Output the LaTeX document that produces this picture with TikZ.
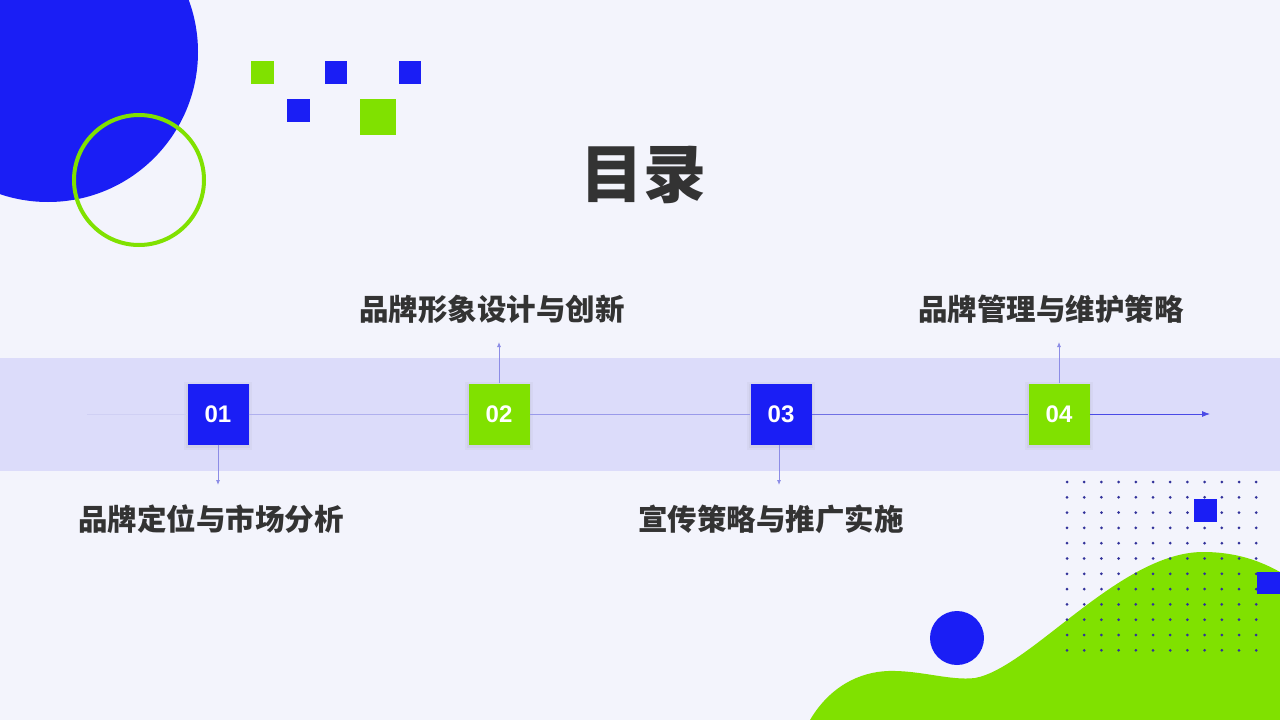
\documentclass[tikz,border=0pt]{standalone}
\usepackage{fontspec}
\setmainfont{Liberation Sans}
\newfontfamily\cjk{Noto Sans CJK SC}
\usetikzlibrary{arrows.meta,shadows}
\definecolor{bgc}{HTML}{F3F4FC}
\definecolor{bandc}{HTML}{DCDCFA}
\definecolor{blu}{HTML}{1A1EF5}
\definecolor{grn}{HTML}{80E100}
\definecolor{dotc}{HTML}{32329A}
\definecolor{txt}{HTML}{333333}
\definecolor{lnA}{HTML}{D0D0F4}
\definecolor{lnB}{HTML}{B0B0EE}
\definecolor{lnC}{HTML}{9A9AEA}
\definecolor{lnD}{HTML}{7070E4}
\definecolor{lnE}{HTML}{4A4AE6}
\definecolor{vln}{HTML}{8C8CE6}
\tikzset{
  numbox/.style={minimum size=61pt, inner sep=0pt, text=white,
    font=\bfseries\fontsize{24}{28}\selectfont,
    drop shadow={opacity=0.06, shadow xshift=0pt, shadow yshift=-2pt, shadow scale=1.12},
    drop shadow={opacity=0.08, shadow xshift=0pt, shadow yshift=-2pt, shadow scale=1.06}},
  lbl/.style={text=txt, inner sep=0pt, font=\cjk\bfseries\fontsize{29.5}{34}\selectfont},
  vconn/.style={draw=vln, line width=0.8pt, -{Latex[length=5pt,width=4pt]}}
}
\begin{document}
\begin{tikzpicture}[x=1pt,y=-1pt]
\useasboundingbox (0,0) rectangle (1280,720);
\clip (0,0) rectangle (1280,720);
\fill[bgc] (0,0) rectangle (1280,720);
% top-left decoration
\fill[blu] (48,52) circle (150);
\draw[grn, line width=4pt] (139,180) circle (65);
\fill[grn] (251,61) rectangle (274,84);
\fill[blu] (325,61) rectangle (347,84);
\fill[blu] (399,61) rectangle (421,84);
\fill[blu] (287,99) rectangle (310,122);
\fill[grn] (360,99) rectangle (396,135);
% title
\node[text=txt, inner sep=0pt, font=\cjk\bfseries\fontsize{63}{70}\selectfont] (title) at (643,175) {目录};
% band
\fill[bandc] (0,358) rectangle (1280,471);
% bottom-right decoration
\fill[grn] (810,720) .. controls (830,686) and (860,672) .. (888,671)
  .. controls (920,670) and (950,681) .. (975,678)
  .. controls (1030,668) and (1120,552) .. (1203,552)
  .. controls (1238,552) and (1262,562) .. (1280,572)
  -- (1280,720) -- cycle;
\foreach \i in {0,...,11}{
  \foreach \j in {0,...,11}{
    \fill[dotc] ({1067+17.2*\i},{482+15.3*\j}) circle (1.5);
  }
}
\fill[blu] (1194,499) rectangle (1217,522);
\fill[blu] (1257,572) rectangle (1285,594);
\fill[blu] (957,638) circle (27);
% timeline
\coordinate (ls) at (87,414);
\coordinate (le) at (1210,414);
\node[numbox, fill=blu] (b1) at (218,414) {01};
\node[numbox, fill=grn] (b2) at (499,414) {02};
\node[numbox, fill=blu] (b3) at (781,414) {03};
\node[numbox, fill=grn] (b4) at (1059,414) {04};
\draw[lnA, line width=0.8pt] (ls) -- (b1.west);
\draw[lnB, line width=0.8pt] (b1.east) -- (b2.west);
\draw[lnC, line width=0.8pt] (b2.east) -- (b3.west);
\draw[lnD, line width=0.8pt] (b3.east) -- (b4.west);
\draw[lnE, line width=0.8pt, -{Latex[length=8pt,width=6pt]}] (b4.east) -- (le);
% labels
\node[lbl] (t1) at (211,519) {品牌定位与市场分析};
\node[lbl] (t2) at (492,309) {品牌形象设计与创新};
\node[lbl] (t3) at (771,519) {宣传策略与推广实施};
\node[lbl] (t4) at (1051,309) {品牌管理与维护策略};
\coordinate (a1) at (218,485);
\coordinate (a2) at (499,342);
\coordinate (a3) at (779,485);
\coordinate (a4) at (1059,342);
\draw[vconn] (b1.south) -- (a1);
\draw[vconn] (b2.north) -- (a2);
\draw[vconn] ([xshift=-2pt]b3.south) -- (a3);
\draw[vconn] (b4.north) -- (a4);
\end{tikzpicture}
\end{document}
